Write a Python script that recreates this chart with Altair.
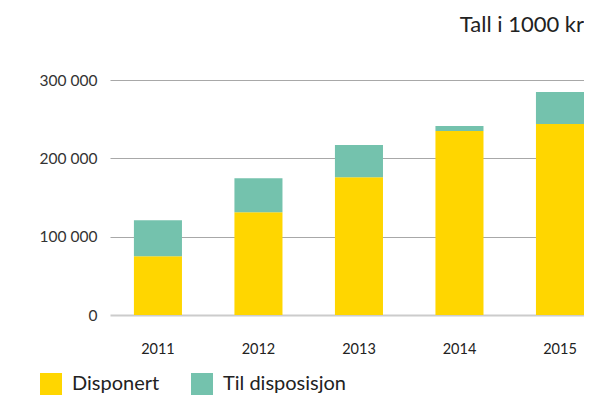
import altair as alt
import pandas as pd

years = ["2011", "2012", "2013", "2014", "2015"]
disponert = [75000, 131300, 176000, 234800, 243800]
til_disposisjon = [46000, 43400, 41000, 6400, 41000]
series = ["Disponert", "Til disposisjon"]
colors = ["#FFD600", "#74C2AD"]
y_ticks = [0, 100000, 200000, 300000]
unit_label = "Tall i 1000 kr"

rows = []
for i, yr in enumerate(years):
    rows.append({"year": yr, "serie": series[0], "value": disponert[i], "ord": 0})
    rows.append({"year": yr, "serie": series[1], "value": til_disposisjon[i], "ord": 1})
df = pd.DataFrame(rows)

FONT = "Lato"

bars = alt.Chart(df).mark_bar().encode(
    x=alt.X("year:N", sort=years, title=None,
            scale=alt.Scale(paddingInner=0.522, paddingOuter=0.119, align=1),
            axis=alt.Axis(labelAngle=0, ticks=False, tickSize=0, domain=False,
                          labelFontSize=14.5, labelColor="#222222", labelFont=FONT,
                          labelBaseline="alphabetic", labelPadding=38, grid=False)),
    y=alt.Y("value:Q", stack="zero", title=None,
            scale=alt.Scale(domain=[0, 300000], nice=False),
            axis=alt.Axis(values=y_ticks, ticks=False, tickSize=0, domain=False,
                          labelExpr="replace(format(datum.value, ','), ',', ' ')",
                          labelFontSize=15.5, labelColor="#333333", labelFont=FONT,
                          labelPadding=13, labelBaseline="middle",
                          grid=True,
                          gridColor={"condition": {"test": "datum.value === 0", "value": "#cccccc"}, "value": "#a8a8a8"},
                          gridWidth={"condition": {"test": "datum.value === 0", "value": 2}, "value": 1.2})),
    color=alt.Color("serie:N", sort=series,
                    scale=alt.Scale(domain=series, range=colors),
                    legend=alt.Legend(title=None, orient="none", direction="horizontal",
                                      legendX=-70, legendY=293,
                                      symbolType="square", symbolSize=484, symbolStrokeWidth=0,
                                      symbolOpacity=1,
                                      labelFontSize=20, labelFont=FONT, labelColor="#222222",
                                      labelOffset=10, columnPadding=31, padding=0)),
    order=alt.Order("ord:Q"),
)

unit_df = pd.DataFrame({"label": [unit_label]})
unit = alt.Chart(unit_df).mark_text(
    align="right", baseline="alphabetic", fontSize=22, font=FONT, color="#222222"
).encode(
    x=alt.value(474), y=alt.value(-48), text="label:N"
)

chart = alt.layer(bars, unit).properties(
    width=474, height=235,
    padding={"left": 102, "top": 72, "right": 0, "bottom": 80},
    autosize=alt.AutoSizeParams(type="none"),
    background="white",
).configure_view(stroke=None)

chart.save("out.html", embed_options={"renderer": "svg", "actions": False})
